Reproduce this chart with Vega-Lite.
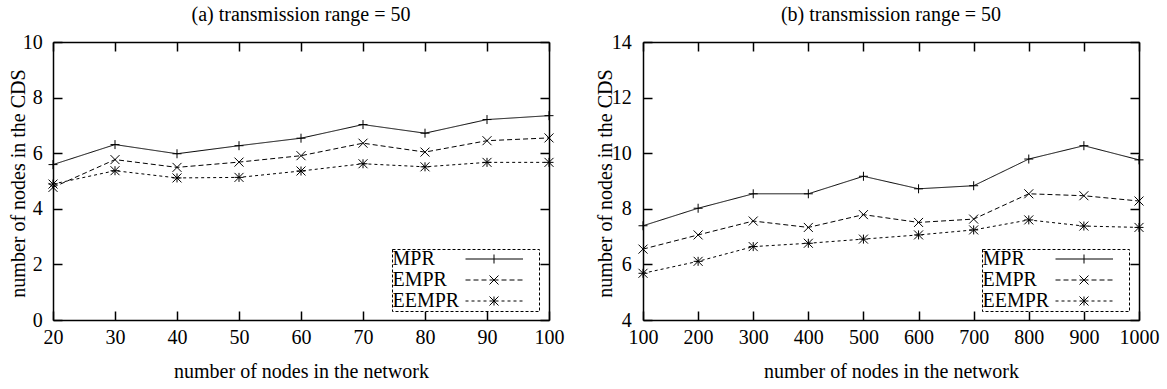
{
  "$schema": "https://vega.github.io/schema/vega-lite/v6.json",
  "padding": {"left": 7, "top": 4, "right": 5, "bottom": 5},
  "datasets": {
    "a": [
      {"nodes": 20, "series": "MPR", "cds": 5.59},
      {"nodes": 30, "series": "MPR", "cds": 6.31},
      {"nodes": 40, "series": "MPR", "cds": 5.98},
      {"nodes": 50, "series": "MPR", "cds": 6.27},
      {"nodes": 60, "series": "MPR", "cds": 6.54},
      {"nodes": 70, "series": "MPR", "cds": 7.03},
      {"nodes": 80, "series": "MPR", "cds": 6.72},
      {"nodes": 90, "series": "MPR", "cds": 7.21},
      {"nodes": 100, "series": "MPR", "cds": 7.35},
      {"nodes": 20, "series": "EMPR", "cds": 4.77},
      {"nodes": 30, "series": "EMPR", "cds": 5.77},
      {"nodes": 40, "series": "EMPR", "cds": 5.49},
      {"nodes": 50, "series": "EMPR", "cds": 5.68},
      {"nodes": 60, "series": "EMPR", "cds": 5.91},
      {"nodes": 70, "series": "EMPR", "cds": 6.36},
      {"nodes": 80, "series": "EMPR", "cds": 6.04},
      {"nodes": 90, "series": "EMPR", "cds": 6.45},
      {"nodes": 100, "series": "EMPR", "cds": 6.55},
      {"nodes": 20, "series": "EEMPR", "cds": 4.89},
      {"nodes": 30, "series": "EEMPR", "cds": 5.37},
      {"nodes": 40, "series": "EEMPR", "cds": 5.11},
      {"nodes": 50, "series": "EEMPR", "cds": 5.13},
      {"nodes": 60, "series": "EEMPR", "cds": 5.36},
      {"nodes": 70, "series": "EEMPR", "cds": 5.62},
      {"nodes": 80, "series": "EEMPR", "cds": 5.51},
      {"nodes": 90, "series": "EEMPR", "cds": 5.67},
      {"nodes": 100, "series": "EEMPR", "cds": 5.67}
    ],
    "b": [
      {"nodes": 100, "series": "MPR", "cds": 7.39},
      {"nodes": 200, "series": "MPR", "cds": 8.02},
      {"nodes": 300, "series": "MPR", "cds": 8.54},
      {"nodes": 400, "series": "MPR", "cds": 8.54},
      {"nodes": 500, "series": "MPR", "cds": 9.17},
      {"nodes": 600, "series": "MPR", "cds": 8.72},
      {"nodes": 700, "series": "MPR", "cds": 8.83},
      {"nodes": 800, "series": "MPR", "cds": 9.79},
      {"nodes": 900, "series": "MPR", "cds": 10.27},
      {"nodes": 1000, "series": "MPR", "cds": 9.76},
      {"nodes": 100, "series": "EMPR", "cds": 6.55},
      {"nodes": 200, "series": "EMPR", "cds": 7.06},
      {"nodes": 300, "series": "EMPR", "cds": 7.56},
      {"nodes": 400, "series": "EMPR", "cds": 7.33},
      {"nodes": 500, "series": "EMPR", "cds": 7.79},
      {"nodes": 600, "series": "EMPR", "cds": 7.51},
      {"nodes": 700, "series": "EMPR", "cds": 7.63},
      {"nodes": 800, "series": "EMPR", "cds": 8.54},
      {"nodes": 900, "series": "EMPR", "cds": 8.47},
      {"nodes": 1000, "series": "EMPR", "cds": 8.28},
      {"nodes": 100, "series": "EEMPR", "cds": 5.68},
      {"nodes": 200, "series": "EEMPR", "cds": 6.11},
      {"nodes": 300, "series": "EEMPR", "cds": 6.64},
      {"nodes": 400, "series": "EEMPR", "cds": 6.76},
      {"nodes": 500, "series": "EEMPR", "cds": 6.91},
      {"nodes": 600, "series": "EEMPR", "cds": 7.06},
      {"nodes": 700, "series": "EEMPR", "cds": 7.24},
      {"nodes": 800, "series": "EEMPR", "cds": 7.60},
      {"nodes": 900, "series": "EEMPR", "cds": 7.38},
      {"nodes": 1000, "series": "EEMPR", "cds": 7.33}
    ]
  },
  "bounds": "flush",
  "spacing": 94,
  "resolve": {
    "scale": {"shape": "independent", "strokeDash": "independent"},
    "legend": {"shape": "independent", "strokeDash": "independent"}
  },
  "hconcat": [
    {
      "width": 496,
      "height": 278,
      "title": {"text": "(a) transmission range = 50"},
      "data": {"name": "a"},
      "layer": [
        {
          "mark": {"type": "line", "color": "black", "strokeWidth": 1},
          "encoding": {
            "x": {"field": "nodes", "type": "quantitative",
                  "scale": {"domain": [20, 100], "nice": false, "zero": false},
                  "axis": {"orient": "bottom", "values": [20, 30, 40, 50, 60, 70, 80, 90, 100], "format": "d",
                           "labelPadding": 16, "title": "number of nodes in the network",
                           "titleX": 248, "titleY": 57.3, "titleBaseline": "alphabetic", "titleAlign": "center"}},
            "y": {"field": "cds", "type": "quantitative",
                  "scale": {"domain": [0, 10], "nice": false, "zero": false},
                  "axis": {"orient": "left", "values": [0, 2, 4, 6, 8, 10],
                           "labelPadding": 19.7, "title": "number of nodes in the CDS",
                           "titleX": -29, "titleY": 141, "titleBaseline": "alphabetic", "titleAlign": "center", "titleAngle": 270}},
            "strokeDash": {"field": "series", "type": "nominal",
                           "scale": {"domain": ["MPR", "EMPR", "EEMPR"], "range": [[1, 0], [5, 3], [3, 3]]},
                           "legend": null}
          }
        },
        {
          "mark": {"type": "point", "filled": false, "color": "black", "size": 81, "strokeWidth": 1, "opacity": 1},
          "encoding": {
            "x": {"field": "nodes", "type": "quantitative",
                  "axis": {"orient": "top", "values": [20, 30, 40, 50, 60, 70, 80, 90, 100], "labels": false, "title": null}},
            "y": {"field": "cds", "type": "quantitative",
                  "axis": {"orient": "right", "values": [0, 2, 4, 6, 8, 10], "labels": false, "title": null}},
            "shape": {"field": "series", "type": "nominal",
                      "scale": {"domain": ["MPR", "EMPR", "EEMPR"],
                                "range": ["M-1,0H1M0,-1V1", "M-1,-1L1,1M-1,1L1,-1", "M-1,0H1M0,-1V1M-1,-1L1,1M-1,1L1,-1"]},
                      "legend": null}
          }
        },
        {
          "transform": [{"filter": "false"}],
          "mark": {"type": "point", "filled": false, "color": "black", "size": 4, "strokeWidth": 1, "opacity": 1},
          "encoding": {
            "shape": {"field": "series", "type": "nominal",
                      "scale": {"domain": ["MPR", "EMPR", "EEMPR"],
                                "range": [
                                  "M63.5,0H121M92,-4.5V4.5M134.5,0",
                                  "M63.5,0H68.5M71.5,0H76.5M79.5,0H84.5M87.5,0H96.5M99.5,0H104.5M107.5,0H112.5M115.5,0H120.5M87.5,-4.5L96.5,4.5M87.5,4.5L96.5,-4.5M134.5,0",
                                  "M63.5,0H66.5M69.5,0H72.5M75.5,0H78.5M81.5,0H84.5M87.5,0H96.5M99.5,0H102.5M105.5,0H108.5M111.5,0H114.5M117.5,0H120.5M92,-4.5V4.5M87.5,-4.5L96.5,4.5M87.5,4.5L96.5,-4.5M134.5,0"
                                ]},
                      "legend": {"orient": "none", "legendX": 339, "legendY": 207, "title": null}}
          }
        }
      ],
      "resolve": {"scale": {"shape": "independent"}, "axis": {"x": "independent", "y": "independent"}}
    },
    {
      "width": 496,
      "height": 278,
      "title": {"text": "(b) transmission range = 50"},
      "data": {"name": "b"},
      "layer": [
        {
          "mark": {"type": "line", "color": "black", "strokeWidth": 1},
          "encoding": {
            "x": {"field": "nodes", "type": "quantitative",
                  "scale": {"domain": [100, 1000], "nice": false, "zero": false},
                  "axis": {"orient": "bottom", "values": [100, 200, 300, 400, 500, 600, 700, 800, 900, 1000], "format": "d",
                           "labelPadding": 16, "title": "number of nodes in the network",
                           "titleX": 248, "titleY": 57.3, "titleBaseline": "alphabetic", "titleAlign": "center"}},
            "y": {"field": "cds", "type": "quantitative",
                  "scale": {"domain": [4, 14], "nice": false, "zero": false},
                  "axis": {"orient": "left", "values": [4, 6, 8, 10, 12, 14],
                           "labelPadding": 20.7, "title": "number of nodes in the CDS",
                           "titleX": -32, "titleY": 141, "titleBaseline": "alphabetic", "titleAlign": "center", "titleAngle": 270}},
            "strokeDash": {"field": "series", "type": "nominal",
                           "scale": {"domain": ["MPR", "EMPR", "EEMPR"], "range": [[1, 0], [5, 3], [3, 3]]},
                           "legend": null}
          }
        },
        {
          "mark": {"type": "point", "filled": false, "color": "black", "size": 81, "strokeWidth": 1, "opacity": 1},
          "encoding": {
            "x": {"field": "nodes", "type": "quantitative",
                  "axis": {"orient": "top", "values": [100, 200, 300, 400, 500, 600, 700, 800, 900, 1000], "labels": false, "title": null}},
            "y": {"field": "cds", "type": "quantitative",
                  "axis": {"orient": "right", "values": [4, 6, 8, 10, 12, 14], "labels": false, "title": null}},
            "shape": {"field": "series", "type": "nominal",
                      "scale": {"domain": ["MPR", "EMPR", "EEMPR"],
                                "range": ["M-1,0H1M0,-1V1", "M-1,-1L1,1M-1,1L1,-1", "M-1,0H1M0,-1V1M-1,-1L1,1M-1,1L1,-1"]},
                      "legend": null}
          }
        },
        {
          "transform": [{"filter": "false"}],
          "mark": {"type": "point", "filled": false, "color": "black", "size": 4, "strokeWidth": 1, "opacity": 1},
          "encoding": {
            "shape": {"field": "series", "type": "nominal",
                      "scale": {"domain": ["MPR", "EMPR", "EEMPR"],
                                "range": [
                                  "M63.5,0H121M92,-4.5V4.5M134.5,0",
                                  "M63.5,0H68.5M71.5,0H76.5M79.5,0H84.5M87.5,0H96.5M99.5,0H104.5M107.5,0H112.5M115.5,0H120.5M87.5,-4.5L96.5,4.5M87.5,4.5L96.5,-4.5M134.5,0",
                                  "M63.5,0H66.5M69.5,0H72.5M75.5,0H78.5M81.5,0H84.5M87.5,0H96.5M99.5,0H102.5M105.5,0H108.5M111.5,0H114.5M117.5,0H120.5M92,-4.5V4.5M87.5,-4.5L96.5,4.5M87.5,4.5L96.5,-4.5M134.5,0"
                                ]},
                      "legend": {"orient": "none", "legendX": 339, "legendY": 207, "title": null}}
          }
        }
      ],
      "resolve": {"scale": {"shape": "independent"}, "axis": {"x": "independent", "y": "independent"}}
    }
  ],
  "config": {
    "font": "Liberation Serif",
    "background": "white",
    "view": {"stroke": null},
    "title": {"font": "Liberation Serif", "fontSize": 20, "fontWeight": "normal", "color": "black", "anchor": "middle", "baseline": "alphabetic", "offset": 7.5},
    "axis": {
      "grid": false,
      "labelFont": "Liberation Serif", "labelFontSize": 20, "labelColor": "black",
      "labelFlush": false, "labelOverlap": false,
      "titleFont": "Liberation Serif", "titleFontSize": 20, "titleFontWeight": "normal", "titleColor": "black",
      "domainColor": "black", "domainWidth": 1.5,
      "tickColor": "black", "tickWidth": 1.5, "tickSize": -9
    },
    "legend": {
      "padding": 0, "rowPadding": 1,
      "labelFont": "Liberation Serif", "labelFontSize": 20, "labelColor": "black", "labelOffset": -19.5,
      "symbolSize": 4, "symbolStrokeColor": "black", "symbolFillColor": "transparent", "symbolStrokeWidth": 1, "symbolOpacity": 1,
      "strokeColor": "black", "strokeDash": [3, 2], "fillColor": "white"
    }
  }
}
